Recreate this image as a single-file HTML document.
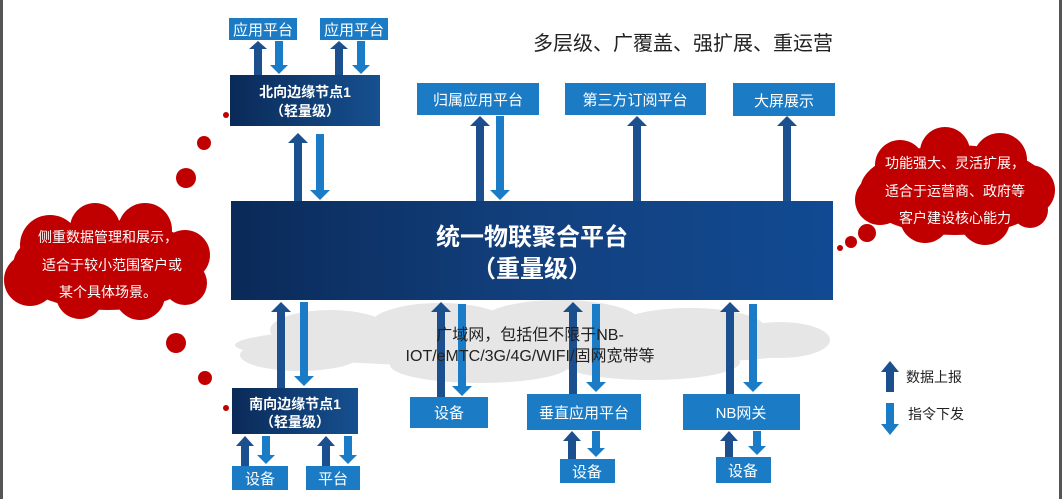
<!DOCTYPE html>
<html><head><meta charset="utf-8"><style>
body{margin:0;background:#fff}
svg{display:block}
text{font-family:"Liberation Sans","Noto Sans CJK SC",sans-serif}
</style></head><body>
<svg width="1062" height="499" viewBox="0 0 1062 499" xmlns="http://www.w3.org/2000/svg">
<defs>
<linearGradient id="g" x1="0" x2="1" y1="0" y2="0"><stop offset="0" stop-color="#0a2a58"/><stop offset="0.5" stop-color="#12407e"/><stop offset="1" stop-color="#114a92"/></linearGradient>
<linearGradient id="gn" x1="0" x2="1"><stop offset="0" stop-color="#0a2a58"/><stop offset="1" stop-color="#16508f"/></linearGradient>
</defs>
<rect x="0" y="0" width="3" height="499" fill="#555"/>
<rect x="1059" y="0" width="3" height="499" fill="#555"/>

<g fill="#e6e6e6">
<ellipse cx="530" cy="345" rx="295" ry="22"/>
<ellipse cx="330" cy="330" rx="60" ry="20"/><ellipse cx="440" cy="325" rx="70" ry="22"/>
<ellipse cx="560" cy="322" rx="80" ry="22"/><ellipse cx="690" cy="328" rx="75" ry="20"/>
<ellipse cx="780" cy="340" rx="50" ry="18"/><ellipse cx="300" cy="355" rx="60" ry="16"/>
<ellipse cx="480" cy="365" rx="90" ry="18"/><ellipse cx="650" cy="362" rx="90" ry="18"/>
</g>

<text x="533" y="50" font-size="20" fill="#222">多层级、广覆盖、强扩展、重运营</text>

<rect x="231" y="201" width="602" height="99" fill="url(#g)"/>
<text x="532" y="245" font-size="24" font-weight="bold" fill="#fff" text-anchor="middle">统一物联聚合平台</text>
<text x="532" y="277" font-size="24" font-weight="bold" fill="#fff" text-anchor="middle">（重量级）</text>

<rect x="230" y="75" width="150" height="51" fill="url(#gn)"/>
<text x="305" y="97" font-size="14" font-weight="bold" fill="#fff" text-anchor="middle">北向边缘节点1</text>
<text x="305" y="116" font-size="14" font-weight="bold" fill="#fff" text-anchor="middle">（轻量级）</text>

<g fill="#1b7bc4">
<rect x="229" y="18" width="68" height="22"/><rect x="320" y="18" width="68" height="22"/>
<rect x="417" y="83" width="122" height="32"/><rect x="565" y="83" width="141" height="32"/><rect x="733" y="83" width="102" height="33"/>
<rect x="410" y="397" width="78" height="31"/><rect x="527" y="394" width="114" height="36"/><rect x="683" y="394" width="117" height="36"/>
<rect x="232" y="466" width="56" height="24"/><rect x="306" y="466" width="54" height="24"/>
<rect x="560" y="459" width="55" height="24"/><rect x="716" y="457" width="55" height="26"/>
</g>
<g fill="#fff" font-size="15" text-anchor="middle">
<text x="263" y="35">应用平台</text><text x="354" y="35">应用平台</text>
<text x="478" y="105">归属应用平台</text><text x="635" y="105">第三方订阅平台</text><text x="784" y="106">大屏展示</text>
<text x="449" y="418">设备</text><text x="584" y="418">垂直应用平台</text><text x="741" y="418">NB网关</text>
<text x="260" y="484">设备</text><text x="333" y="484">平台</text>
<text x="587" y="477">设备</text><text x="743" y="476">设备</text>
</g>

<rect x="232" y="388" width="126" height="46" fill="url(#gn)"/>
<text x="295" y="409" font-size="14" font-weight="bold" fill="#fff" text-anchor="middle">南向边缘节点1</text>
<text x="295" y="427" font-size="14" font-weight="bold" fill="#fff" text-anchor="middle">（轻量级）</text>

<g fill="#1c4f8e">
<path d="M249,49 L258,41 L267,49 L262,49 L262,75 L254,75 L254,49Z"/>
<path d="M330,49 L339,41 L348,49 L343,49 L343,75 L335,75 L335,49Z"/>
<path d="M288,143 L298,133 L308,143 L302,143 L302,201 L294,201 L294,143Z"/>
<path d="M470,126 L480,116 L490,126 L484,126 L484,201 L476,201 L476,126Z"/>
<path d="M627,126 L637,116 L647,126 L641,126 L641,201 L633,201 L633,126Z"/>
<path d="M777,126 L787,116 L797,126 L791,126 L791,201 L783,201 L783,126Z"/>
<path d="M271,312 L281,302 L291,312 L285,312 L285,388 L277,388 L277,312Z"/>
<path d="M431,312 L441,302 L451,312 L445,312 L445,397 L437,397 L437,312Z"/>
<path d="M563,312 L573,302 L583,312 L577,312 L577,394 L569,394 L569,312Z"/>
<path d="M720,312 L730,302 L740,312 L734,312 L734,394 L726,394 L726,312Z"/>
<path d="M236,446 L245,436 L254,446 L249,446 L249,466 L241,466 L241,446Z"/>
<path d="M317,446 L326,436 L335,446 L330,446 L330,466 L322,466 L322,446Z"/>
<path d="M563,441 L572,431 L581,441 L576,441 L576,459 L568,459 L568,441Z"/>
<path d="M720,441 L729,431 L738,441 L733,441 L733,457 L725,457 L725,441Z"/>
<path d="M881,372 L890,361 L899,372 L894,372 L894,392 L886,392 L886,372Z"/>
</g>
<g fill="#1a7cc6">
<path d="M275,41 L283,41 L283,65 L288,65 L279,74 L270,65 L275,65Z"/>
<path d="M357,41 L365,41 L365,65 L370,65 L361,74 L352,65 L357,65Z"/>
<path d="M316,134 L324,134 L324,190 L330,190 L320,200 L310,190 L316,190Z"/>
<path d="M496,116 L504,116 L504,190 L510,190 L500,200 L490,190 L496,190Z"/>
<path d="M300,302 L308,302 L308,376 L314,376 L304,386 L294,376 L300,376Z"/>
<path d="M458,304 L466,304 L466,386 L472,386 L462,396 L452,386 L458,386Z"/>
<path d="M592,304 L600,304 L600,382 L606,382 L596,392 L586,382 L592,382Z"/>
<path d="M749,304 L757,304 L757,382 L763,382 L753,392 L743,382 L749,382Z"/>
<path d="M262,436 L270,436 L270,455 L275,455 L266,464 L257,455 L262,455Z"/>
<path d="M344,436 L352,436 L352,455 L357,455 L348,464 L339,455 L344,455Z"/>
<path d="M592,431 L600,431 L600,448 L605,448 L596,457 L587,448 L592,448Z"/>
<path d="M753,431 L761,431 L761,446 L766,446 L757,455 L748,446 L753,446Z"/>
<path d="M886,403 L894,403 L894,424 L899,424 L890,435 L881,424 L886,424Z"/>
</g>

<text x="530" y="340" font-size="16" fill="#222" text-anchor="middle">广域网，包括但不限于NB-</text>
<text x="530" y="361" font-size="16" fill="#222" text-anchor="middle">IOT/eMTC/3G/4G/WIFI/固网宽带等</text>

<text x="906" y="382" font-size="14" fill="#222">数据上报</text>
<text x="908" y="419" font-size="14" fill="#222">指令下发</text>

<g fill="#c00000">
<ellipse cx="108" cy="265" rx="95" ry="45"/>
<circle cx="50" cy="245" r="30"/><circle cx="95" cy="228" r="25"/><circle cx="145" cy="230" r="27"/>
<circle cx="185" cy="255" r="25"/><circle cx="30" cy="280" r="26"/><circle cx="80" cy="295" r="24"/>
<circle cx="140" cy="295" r="25"/><circle cx="185" cy="283" r="22"/>
<circle cx="176" cy="343" r="10"/><circle cx="205" cy="378" r="7"/><circle cx="226" cy="408" r="3"/>
<circle cx="186" cy="178" r="10"/><circle cx="204" cy="143" r="7"/><circle cx="226" cy="115" r="3"/>
</g>
<g fill="#fff" font-size="14" text-anchor="middle">
<text x="108" y="242">侧重数据管理和展示，</text>
<text x="112" y="270">适合于较小范围客户或</text>
<text x="108" y="297">某个具体场景。</text>
</g>

<g fill="#c00000">
<ellipse cx="955" cy="190" rx="95" ry="45"/>
<circle cx="900" cy="165" r="25"/><circle cx="945" cy="152" r="25"/><circle cx="1000" cy="160" r="27"/>
<circle cx="1030" cy="190" r="25"/><circle cx="880" cy="200" r="25"/><circle cx="925" cy="218" r="25"/>
<circle cx="985" cy="220" r="25"/><circle cx="1030" cy="210" r="18"/>
<circle cx="867" cy="233" r="9"/><circle cx="851" cy="242" r="6"/><circle cx="840" cy="248" r="3"/>
</g>
<g fill="#fff" font-size="14" text-anchor="middle">
<text x="955" y="168">功能强大、灵活扩展，</text>
<text x="955" y="196">适合于运营商、政府等</text>
<text x="955" y="223">客户建设核心能力</text>
</g>
</svg>
</body></html>
